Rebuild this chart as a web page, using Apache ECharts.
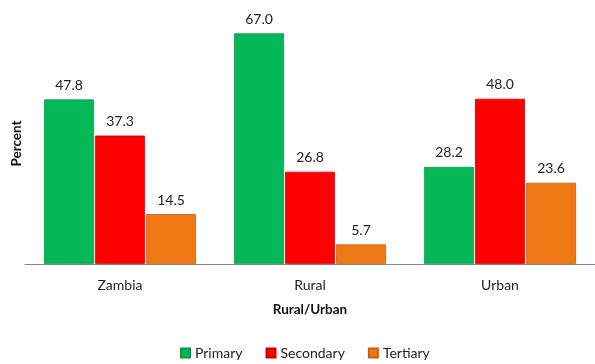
<!DOCTYPE html>
<html><head><meta charset="utf-8">
<script src="https://cdn.jsdelivr.net/npm/echarts@6/dist/echarts.min.js"></script>
<style>html,body{margin:0;padding:0;background:#fff}#c{width:595px;height:364px}</style>
</head><body><div id="c"></div>
<script>
const categories = ['Zambia', 'Rural', 'Urban'];
const primary = [47.8, 67.0, 28.2];
const secondary = [37.3, 26.8, 48.0];
const tertiary = [14.5, 5.7, 23.6];
const seriesNames = ['Primary', 'Secondary', 'Tertiary'];
const colors = ['#05B857', '#FE0000', '#F07814'];
const borders = ['#0A9A4A', '#D00000', '#C8620E'];
const FONT = 'Lato, "Open Sans", sans-serif';
const chart = echarts.init(document.getElementById('c'));
const lbl = {show: true, position: 'top', distance: 7, formatter: p => p.value.toFixed(1), color: '#222', fontSize: 14, fontFamily: FONT};
const mk = (name, data, i) => ({
  name, type: 'bar', data, barWidth: 50, barGap: '2%',
  itemStyle: {color: colors[i], borderColor: borders[i], borderWidth: 0.8},
  label: lbl
});
chart.setOption({
  animation: false,
  textStyle: {fontFamily: FONT},
  grid: {left: 25, right: 0, top: 23, bottom: 100},
  legend: {top: 341, left: 175, itemWidth: 9, itemHeight: 9, itemGap: 23,
    icon: 'rect', textStyle: {fontSize: 14, color: '#222', fontFamily: FONT}, data: seriesNames},
  xAxis: {type: 'category', data: categories,
    axisLine: {lineStyle: {color: '#888', width: 1}}, axisTick: {show: false},
    axisLabel: {color: '#222', fontSize: 14, margin: 14, fontFamily: FONT},
    name: 'Rural/Urban', nameLocation: 'middle', nameGap: 39,
    nameTextStyle: {fontWeight: 'bold', fontSize: 13.5, color: '#111', fontFamily: FONT}},
  yAxis: {type: 'value', min: 0, max: 70,
    axisLine: {show: false}, axisTick: {show: false}, axisLabel: {show: false}, splitLine: {show: false},
    name: 'Percent', nameLocation: 'middle', nameGap: 1,
    nameTextStyle: {fontWeight: 'bold', fontSize: 13.5, color: '#111', fontFamily: FONT}},
  series: [mk(seriesNames[0], primary, 0), mk(seriesNames[1], secondary, 1), mk(seriesNames[2], tertiary, 2)]
});
</script></body></html>
